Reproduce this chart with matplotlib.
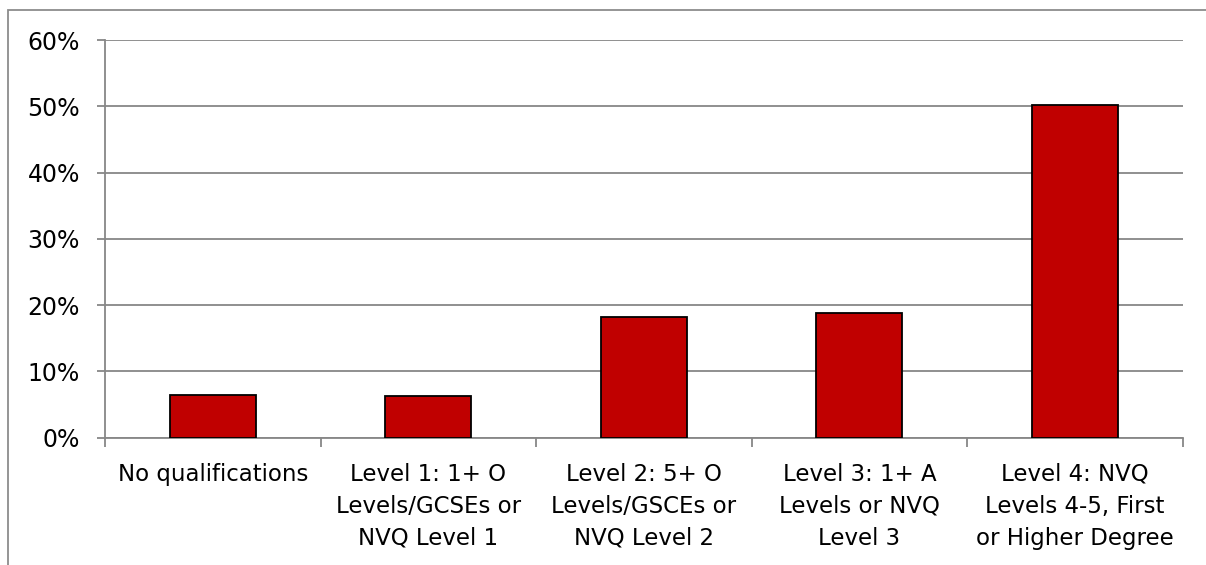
import matplotlib
matplotlib.use("Agg")
import matplotlib.pyplot as plt
from matplotlib.patches import Rectangle
from matplotlib.ticker import FixedLocator, PercentFormatter

categories = [
    "No qualifications",
    "Level 1: 1+ O\nLevels/GCSEs or\nNVQ Level 1",
    "Level 2: 5+ O\nLevels/GSCEs or\nNVQ Level 2",
    "Level 3: 1+ A\nLevels or NVQ\nLevel 3",
    "Level 4: NVQ\nLevels 4-5, First\nor Higher Degree",
]
shares = [6.45, 6.25, 18.25, 18.75, 50.2]
y_ticks = [0, 10, 20, 30, 40, 50, 60]

W, H = 1206, 565
fig = plt.figure(figsize=(W / 100, H / 100), dpi=100)
plt.rcParams["font.family"] = ["DejaVu Sans"]

grid_col = "#878787"

# outer chart-area frame
fig.patches.append(Rectangle((8 / W, -0.1), 1.2, (H - 10) / H + 0.1,
                             transform=fig.transFigure, fill=False,
                             edgecolor="#8c8c8c", linewidth=1.3))

ax = fig.add_axes([105 / W, 1 - 437.7 / H, (1182.7 - 105) / W, (437.7 - 40) / H])
x = list(range(len(categories)))
ax.bar(x, shares, width=0.40, color="#C00000", edgecolor="black",
       linewidth=1.3, zorder=3)

ax.set_xlim(-0.5, len(categories) - 0.5)
ax.set_ylim(0, 60)
ax.yaxis.set_major_locator(FixedLocator(y_ticks))
ax.yaxis.set_major_formatter(PercentFormatter(decimals=0))
ax.grid(axis="y", color=grid_col, linewidth=1.3, zorder=0)

for s in ("top", "right"):
    ax.spines[s].set_visible(False)
for s in ("left", "bottom"):
    ax.spines[s].set_color(grid_col)
    ax.spines[s].set_linewidth(1.3)

ax.set_xticks(x)
ax.set_xticklabels(categories, fontsize=16.5, linespacing=1.5)
ax.set_xticks([i - 0.5 for i in range(len(categories) + 1)], minor=True)
ax.tick_params(axis="x", which="major", length=0, pad=18)
ax.tick_params(axis="x", which="minor", length=6.5, width=1.3, color=grid_col)
ax.tick_params(axis="y", length=6, width=1.3, color=grid_col,
               labelsize=17, pad=12)

fig.savefig("out.png", dpi=100)
